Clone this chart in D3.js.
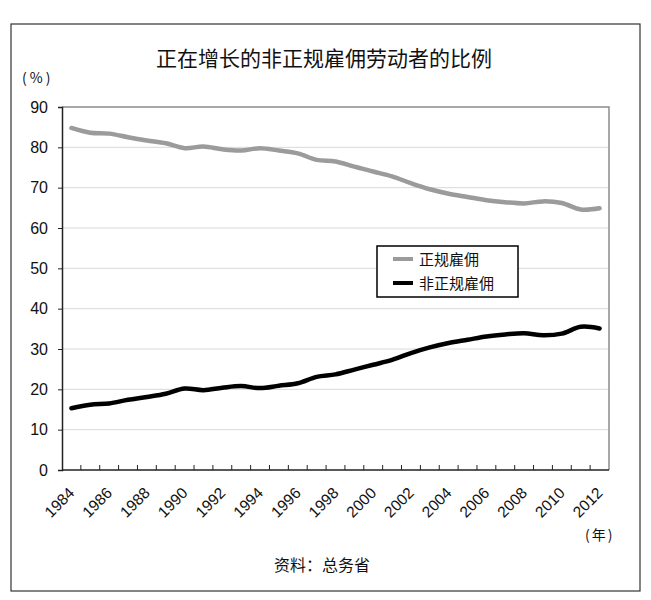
<!DOCTYPE html>
<html>
<head>
<meta charset="utf-8">
<script src="https://cdn.jsdelivr.net/npm/d3@7"></script>
<style>
  body { margin: 0; background: #fff; }
  text { font-family: "Noto Sans CJK SC", "Liberation Sans", sans-serif; fill: #111; }
  .num { font-family: "Liberation Sans", Arial, sans-serif; }
</style>
</head>
<body>
<svg id="chart" width="651" height="600"></svg>
<script>
const years = ['1984','1985','1986','1987','1988','1989','1990','1991','1992','1993','1994','1995','1996','1997','1998',
	'1999','2000','2001','2002','2003','2004','2005','2006','2007','2008','2009','2010','2011','2012']
const regular = [84.8, 83.6, 83.4, 82.5, 81.7, 81.0, 79.8, 80.2, 79.5, 79.2, 79.8, 79.2, 78.5, 76.9, 76.5,
	75.2, 74.0, 72.8, 71.1, 69.6, 68.5, 67.7, 66.9, 66.4, 66.1, 66.6, 66.2, 64.6, 64.9]
const nonRegular = [15.3, 16.2, 16.5, 17.4, 18.1, 18.9, 20.2, 19.8, 20.4, 20.8, 20.3, 20.9, 21.5, 23.1, 23.7,
	24.9, 26.1, 27.3, 29.0, 30.4, 31.5, 32.3, 33.1, 33.6, 33.9, 33.4, 33.8, 35.5, 35.1]
const yTicks = [0, 10, 20, 30, 40, 50, 60, 70, 80, 90]
const seriesNames = ['正规雇佣', '非正规雇佣']
const colors = ['#9b9b9b', '#000']

const plot = { left: 62, right: 609, top: 107, bottom: 470 }
const svg = d3.select('#chart')

// outer frame
svg.append('rect').attr('x', 11).attr('y', 24).attr('width', 629).attr('height', 567)
	.attr('fill', 'none').attr('stroke', '#333').attr('stroke-width', 1.2)

svg.append('text').attr('x', 324).attr('y', 66).attr('text-anchor', 'middle')
	.style('font-size', '21px').text('正在增长的非正规雇佣劳动者的比例')

const x = d3.scaleBand().domain(years).range([plot.left, plot.right])
const y = d3.scaleLinear().domain([0, 90]).range([plot.bottom, plot.top])

// gridlines
svg.append('g').selectAll('line').data(yTicks.slice(1, -1)).enter().append('line')
	.attr('x1', plot.left).attr('x2', plot.right)
	.attr('y1', d => y(d)).attr('y2', d => y(d))
	.attr('stroke', '#d9d9d9').attr('stroke-width', 1)

// plot area border (top/right)
svg.append('path')
	.attr('d', `M${plot.left},${plot.top}H${plot.right}V${plot.bottom}`)
	.attr('fill', 'none').attr('stroke', '#8c8c8c').attr('stroke-width', 1.5)

// y axis
const yAxis = svg.append('g').attr('transform', `translate(${plot.left},0)`)
	.call(d3.axisLeft(y).tickValues(yTicks).tickSize(4).tickPadding(10))
yAxis.select('.domain').attr('stroke', '#222').attr('stroke-width', 1.5)
yAxis.selectAll('.tick line').attr('stroke', '#222')
yAxis.selectAll('text').attr('class', 'num').style('font-size', '16px').attr('fill', '#111')

svg.append('text').attr('x', 22).attr('y', 83).style('font-size', '14px')
	.style('letter-spacing', '3px').text('(%)')

// x axis: ticks at band boundaries, pointing inward
const bounds = years.slice(1).map(d => x(d))
svg.append('g').selectAll('line').data(bounds).enter().append('line')
	.attr('x1', d => d).attr('x2', d => d)
	.attr('y1', plot.bottom).attr('y2', plot.bottom - 5)
	.attr('stroke', '#222').attr('stroke-width', 1)
svg.append('line').attr('x1', plot.left).attr('x2', plot.right)
	.attr('y1', plot.bottom).attr('y2', plot.bottom)
	.attr('stroke', '#222').attr('stroke-width', 1.5)

svg.append('g').selectAll('text').data(years.filter((d, i) => i % 2 === 0)).enter().append('text')
	.attr('class', 'num')
	.attr('transform', d => `translate(${x(d) + x.bandwidth() / 2 + 4},${plot.bottom + 24}) rotate(-45)`)
	.attr('text-anchor', 'end').style('font-size', '15.5px')
	.text(d => d)

svg.append('text').attr('x', 585).attr('y', 540).style('font-size', '14px')
	.style('letter-spacing', '2px').text('(年)')

// lines
const line = d3.line()
	.x((d, i) => x(years[i]) + x.bandwidth() / 2)
	.y(d => y(d))
	.curve(d3.curveCatmullRom.alpha(0.5))

;[regular, nonRegular].forEach((set, i) => {
	svg.append('path').datum(set).attr('d', line)
		.attr('fill', 'none').attr('stroke', colors[i]).attr('stroke-width', 4.5)
		.attr('stroke-linecap', 'round').attr('stroke-linejoin', 'round')
})

// legend
const legend = svg.append('g').attr('transform', 'translate(377,246)')
legend.append('rect').attr('width', 141).attr('height', 51)
	.attr('fill', '#fff').attr('stroke', '#000').attr('stroke-width', 1.5)
seriesNames.forEach((name, i) => {
	const row = legend.append('g').attr('transform', `translate(0,${13 + i * 24})`)
	row.append('line').attr('x1', 16).attr('x2', 36).attr('y1', 0).attr('y2', 0)
		.attr('stroke', colors[i]).attr('stroke-width', 4)
	row.append('text').attr('x', 42).attr('y', 5.5).style('font-size', '15px').text(name)
})

svg.append('text').attr('x', 322).attr('y', 571).attr('text-anchor', 'middle')
	.style('font-size', '16px').text('资料：总务省')
</script>
</body>
</html>
